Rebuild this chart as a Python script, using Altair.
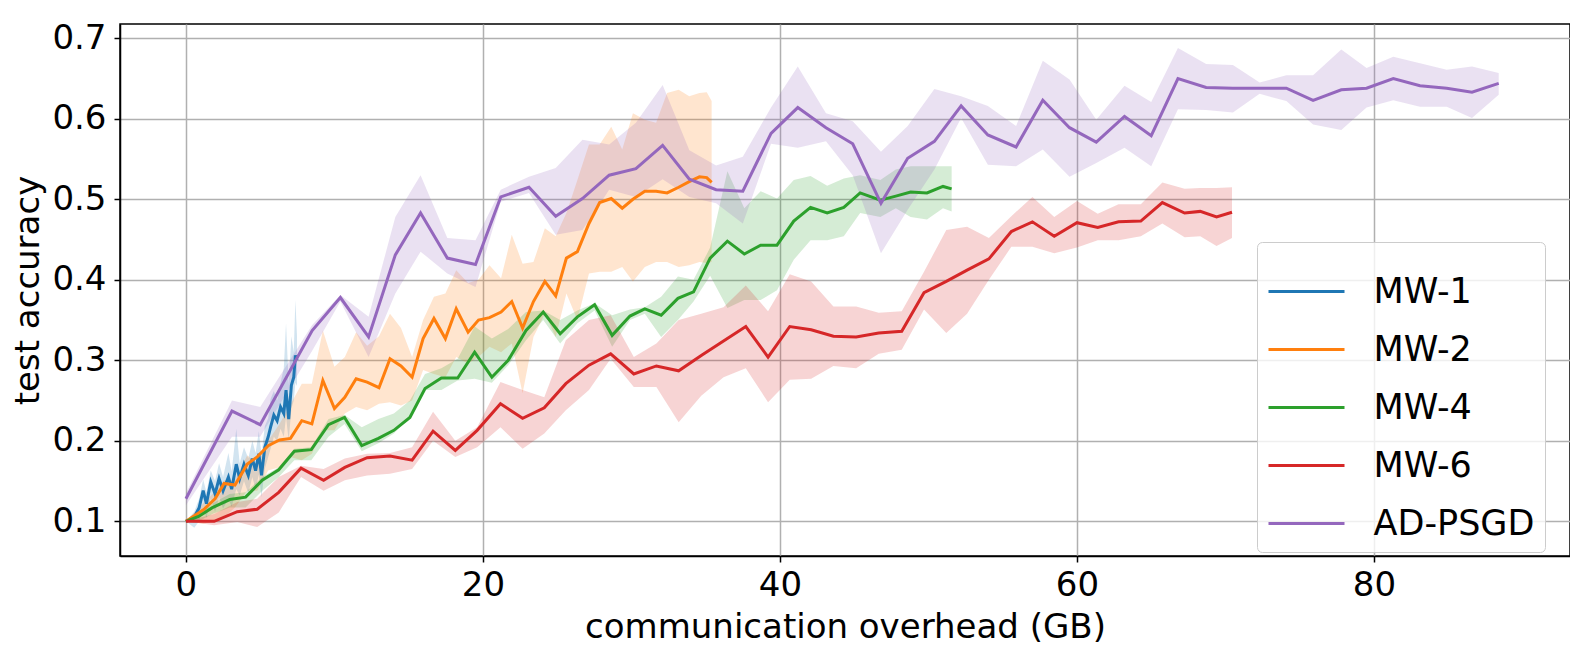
import altair as alt
import pandas as pd

series = ["MW-1", "MW-2", "MW-4", "MW-6", "AD-PSGD"]
colors = ["#1f77b4", "#ff7f0e", "#2ca02c", "#d62728", "#9467bd"]

# MW-1
x1 = [0, 0.56, 0.89, 1.16, 1.38, 1.67, 1.96, 2.23, 2.5, 2.86, 3.08, 3.39, 3.62, 3.91, 4.2, 4.47,
      4.69, 4.91, 5.09, 5.31, 5.54, 5.7, 5.92, 6.14, 6.37, 6.59, 6.74, 6.92, 7.1, 7.26, 7.37, 7.48]
y1 = [0.100, 0.105, 0.117, 0.138, 0.122, 0.149, 0.134, 0.153, 0.138, 0.155, 0.140, 0.171, 0.153, 0.171, 0.157, 0.178,
      0.163, 0.184, 0.157, 0.192, 0.205, 0.217, 0.232, 0.225, 0.242, 0.234, 0.263, 0.227, 0.269, 0.279, 0.306, 0.300]
hi1 = [0.100, 0.112, 0.128, 0.152, 0.136, 0.163, 0.150, 0.172, 0.155, 0.185, 0.162, 0.215, 0.172, 0.192, 0.178, 0.200,
       0.185, 0.212, 0.182, 0.218, 0.228, 0.252, 0.262, 0.250, 0.272, 0.290, 0.346, 0.270, 0.330, 0.310, 0.375, 0.330]
lo1 = [0.100, 0.092, 0.100, 0.118, 0.104, 0.128, 0.112, 0.130, 0.116, 0.128, 0.118, 0.140, 0.132, 0.150, 0.135, 0.155,
       0.140, 0.158, 0.130, 0.165, 0.180, 0.190, 0.205, 0.200, 0.215, 0.205, 0.230, 0.200, 0.240, 0.250, 0.272, 0.268]

# MW-2
x2 = [0, 1.16, 1.96, 2.57, 3.3, 4.13, 4.8, 5.54, 6.3, 7.04, 7.8, 8.48, 9.22, 10.0, 10.7, 11.46, 12.2, 13.0,
      13.74, 14.48, 15.23, 15.97, 16.7, 17.47, 18.2, 19.0, 19.7, 20.44, 21.22, 21.94, 22.67, 23.4, 24.17, 24.9,
      25.62, 26.36, 27.14, 27.86, 28.64, 29.38, 30.1, 30.9, 31.66, 32.4, 33.18, 33.89, 34.58, 35.07, 35.4]
y2 = [0.100, 0.114, 0.128, 0.147, 0.145, 0.171, 0.180, 0.194, 0.201, 0.203, 0.225, 0.221, 0.275, 0.240, 0.254,
      0.277, 0.273, 0.266, 0.302, 0.293, 0.279, 0.327, 0.352, 0.327, 0.364, 0.335, 0.350, 0.353, 0.360, 0.373,
      0.340, 0.373, 0.398, 0.380, 0.427, 0.435, 0.470, 0.496, 0.501, 0.489, 0.500, 0.510, 0.510, 0.508, 0.515,
      0.522, 0.528, 0.527, 0.521]
hi2 = [0.100, 0.122, 0.137, 0.151, 0.151, 0.182, 0.171, 0.200, 0.221, 0.245, 0.271, 0.271, 0.337, 0.292, 0.304,
       0.335, 0.318, 0.330, 0.358, 0.340, 0.304, 0.350, 0.379, 0.383, 0.412, 0.396, 0.400, 0.418, 0.402, 0.456,
       0.420, 0.422, 0.464, 0.454, 0.483, 0.524, 0.568, 0.568, 0.590, 0.562, 0.607, 0.599, 0.595, 0.632, 0.636,
       0.628, 0.632, 0.633, 0.622]
lo2 = [0.100, 0.097, 0.100, 0.105, 0.117, 0.138, 0.138, 0.163, 0.167, 0.180, 0.176, 0.184, 0.213, 0.213, 0.234,
       0.242, 0.238, 0.246, 0.248, 0.244, 0.250, 0.288, 0.283, 0.279, 0.304, 0.296, 0.304, 0.317, 0.310, 0.321,
       0.259, 0.329, 0.358, 0.329, 0.383, 0.350, 0.408, 0.410, 0.410, 0.416, 0.398, 0.416, 0.422, 0.422, 0.416,
       0.418, 0.422, 0.421, 0.422]

# MW-4
x4 = [0, 0.85, 1.78, 2.95, 4.02, 5.14, 6.25, 7.3, 8.44, 9.6, 10.68, 11.84, 12.96, 14.0, 15.08, 16.1, 17.2,
      18.3, 19.44, 20.6, 21.7, 22.9, 24.06, 25.2, 26.36, 27.52, 28.7, 29.9, 30.9, 32.0, 33.13, 34.18, 35.3,
      36.46, 37.6, 38.7, 39.8, 40.93, 42.06, 43.18, 44.3, 45.4, 46.76, 47.8, 48.8, 49.9, 50.98, 51.56]
y4 = [0.100, 0.106, 0.117, 0.127, 0.130, 0.151, 0.164, 0.187, 0.189, 0.220, 0.229, 0.194, 0.203, 0.213, 0.229,
      0.265, 0.278, 0.278, 0.310, 0.279, 0.300, 0.337, 0.360, 0.333, 0.354, 0.369, 0.331, 0.355, 0.364, 0.356,
      0.377, 0.385, 0.427, 0.448, 0.432, 0.443, 0.443, 0.473, 0.490, 0.483, 0.490, 0.508, 0.499, 0.504, 0.509,
      0.508, 0.516, 0.513]
hi4 = [0.100, 0.113, 0.122, 0.134, 0.136, 0.155, 0.167, 0.190, 0.192, 0.227, 0.232, 0.217, 0.227, 0.234, 0.250,
       0.283, 0.290, 0.302, 0.342, 0.327, 0.339, 0.360, 0.362, 0.350, 0.362, 0.371, 0.356, 0.363, 0.366, 0.379,
       0.404, 0.400, 0.440, 0.535, 0.489, 0.510, 0.501, 0.524, 0.529, 0.517, 0.526, 0.530, 0.524, 0.537, 0.541,
       0.541, 0.541, 0.541]
lo4 = [0.100, 0.100, 0.109, 0.117, 0.117, 0.138, 0.155, 0.176, 0.176, 0.205, 0.221, 0.187, 0.197, 0.209, 0.229,
       0.263, 0.263, 0.275, 0.277, 0.272, 0.294, 0.325, 0.350, 0.321, 0.346, 0.362, 0.317, 0.350, 0.358, 0.329,
       0.350, 0.373, 0.405, 0.365, 0.375, 0.375, 0.387, 0.425, 0.449, 0.449, 0.454, 0.483, 0.478, 0.489, 0.478,
       0.475, 0.489, 0.485]

# MW-6
x6 = [0, 1.9, 3.46, 4.8, 6.25, 7.75, 9.27, 10.7, 12.2, 13.74, 15.23, 16.64, 18.14, 19.61, 21.18, 22.67, 24.13,
      25.58, 27.14, 28.6, 30.16, 31.68, 33.18, 34.7, 36.2, 37.7, 39.2, 40.66, 42.1, 43.6, 45.13, 46.65, 48.2,
      49.7, 51.2, 52.6, 54.07, 55.58, 57.0, 58.47, 60.0, 61.4, 62.8, 64.3, 65.75, 67.25, 68.3, 69.4, 70.44]
y6 = [0.100, 0.100, 0.112, 0.115, 0.136, 0.166, 0.151, 0.167, 0.179, 0.181, 0.176, 0.212, 0.188, 0.213, 0.246,
      0.228, 0.241, 0.271, 0.294, 0.308, 0.283, 0.293, 0.287, 0.306, 0.324, 0.342, 0.304, 0.342, 0.338, 0.330,
      0.329, 0.334, 0.336, 0.384, 0.398, 0.412, 0.426, 0.460, 0.472, 0.454, 0.471, 0.465, 0.472, 0.473, 0.496,
      0.483, 0.485, 0.478, 0.484]
hi6 = [0.100, 0.109, 0.124, 0.128, 0.155, 0.169, 0.165, 0.178, 0.184, 0.185, 0.192, 0.236, 0.200, 0.217, 0.273,
       0.263, 0.254, 0.325, 0.350, 0.356, 0.304, 0.321, 0.350, 0.358, 0.366, 0.393, 0.361, 0.407, 0.398, 0.367,
       0.367, 0.359, 0.361, 0.410, 0.462, 0.466, 0.452, 0.479, 0.503, 0.478, 0.498, 0.482, 0.494, 0.494, 0.521,
       0.513, 0.514, 0.514, 0.515]
lo6 = [0.100, 0.095, 0.099, 0.093, 0.111, 0.155, 0.138, 0.151, 0.157, 0.159, 0.165, 0.200, 0.180, 0.192, 0.217,
       0.190, 0.209, 0.238, 0.263, 0.302, 0.267, 0.267, 0.223, 0.256, 0.279, 0.290, 0.248, 0.276, 0.277, 0.293,
       0.290, 0.308, 0.313, 0.363, 0.334, 0.358, 0.400, 0.441, 0.441, 0.433, 0.440, 0.449, 0.449, 0.454, 0.470,
       0.453, 0.454, 0.442, 0.452]

# AD-PSGD
x5 = [0, 3.1, 5.0, 8.5, 10.4, 12.3, 14.1, 15.8, 17.6, 19.5, 21.2, 23.1, 24.9, 26.7, 28.5, 30.3, 32.1, 33.9,
      35.7, 37.5, 39.4, 41.2, 43.1, 44.9, 46.8, 48.6, 50.4, 52.2, 54.0, 55.9, 57.7, 59.5, 61.3, 63.2, 65.0,
      66.8, 68.7, 70.5, 72.3, 74.1, 75.9, 77.8, 79.5, 81.3, 83.1, 84.9, 86.6, 88.4]
y5 = [0.128, 0.237, 0.220, 0.337, 0.378, 0.329, 0.431, 0.483, 0.427, 0.419, 0.503, 0.515, 0.479, 0.501, 0.530,
      0.538, 0.567, 0.525, 0.512, 0.510, 0.582, 0.614, 0.589, 0.569, 0.495, 0.551, 0.572, 0.616, 0.580, 0.565,
      0.623, 0.589, 0.571, 0.603, 0.579, 0.650, 0.639, 0.638, 0.638, 0.638, 0.623, 0.636, 0.638, 0.650, 0.641,
      0.638, 0.633, 0.644]
hi5 = [0.135, 0.250, 0.242, 0.344, 0.381, 0.354, 0.478, 0.530, 0.452, 0.449, 0.512, 0.528, 0.539, 0.574, 0.568,
       0.595, 0.642, 0.561, 0.542, 0.553, 0.614, 0.665, 0.607, 0.597, 0.559, 0.591, 0.637, 0.628, 0.616, 0.591,
       0.672, 0.649, 0.599, 0.641, 0.621, 0.688, 0.668, 0.667, 0.645, 0.654, 0.654, 0.686, 0.663, 0.677, 0.669,
       0.661, 0.665, 0.657]
lo5 = [0.120, 0.205, 0.205, 0.312, 0.373, 0.304, 0.383, 0.435, 0.408, 0.391, 0.497, 0.508, 0.456, 0.462, 0.512,
       0.503, 0.525, 0.503, 0.495, 0.470, 0.569, 0.564, 0.572, 0.530, 0.433, 0.487, 0.537, 0.601, 0.543, 0.541,
       0.562, 0.528, 0.545, 0.564, 0.541, 0.612, 0.611, 0.608, 0.631, 0.622, 0.593, 0.586, 0.614, 0.623, 0.615,
       0.615, 0.601, 0.630]

x_ticks = [0, 20, 40, 60, 80]
y_ticks = [0.1, 0.2, 0.3, 0.4, 0.5, 0.6, 0.7]

rows = []
for name, xs, ys, los, his in [
    ("MW-1", x1, y1, lo1, hi1),
    ("MW-2", x2, y2, lo2, hi2),
    ("MW-4", x4, y4, lo4, hi4),
    ("MW-6", x6, y6, lo6, hi6),
    ("AD-PSGD", x5, y5, lo5, hi5),
]:
    for a, b, c, d in zip(xs, ys, los, his):
        rows.append({"series": name, "x": a, "y": b, "lo": c, "hi": d})
df = pd.DataFrame(rows)

FONT = "DejaVu Sans"
xscale = alt.Scale(domain=[-4.44, 93.2], nice=False, zero=False)
yscale = alt.Scale(domain=[0.0569, 0.7178], nice=False, zero=False)
# line colours (with legend)
cscale = alt.Scale(domain=series, range=colors)
# band colours: same mapping, listed in reverse so its (hidden) legend is kept apart
fscale = alt.Scale(domain=series[::-1], range=colors[::-1])

xaxis = alt.Axis(values=x_ticks, format="d", title="communication overhead (GB)")
yaxis = alt.Axis(values=y_ticks, format=".1f", title="test accuracy")

legend = alt.Legend(
    orient="none", legendX=1137, legendY=218,
    symbolType="stroke", symbolStrokeWidth=3, symbolSize=5776,
    labelFontSize=35, labelFont=FONT, labelColor="black", labelOffset=27.5, labelLimit=400,
    padding=10, fillColor="rgba(255,255,255,0.8)", strokeColor="#cccccc",
    cornerRadius=5, rowPadding=-7,
)

bands = alt.Chart(df).mark_area(opacity=0.2, clip=True).encode(
    x=alt.X("x:Q", scale=xscale, axis=xaxis),
    y=alt.Y("lo:Q", scale=yscale, axis=yaxis),
    y2="hi:Q",
    fill=alt.Fill("series:N", scale=fscale, legend=None),
)

lines = alt.Chart(df).mark_line(strokeWidth=3, clip=True).encode(
    x=alt.X("x:Q", scale=xscale, axis=xaxis),
    y=alt.Y("y:Q", scale=yscale, axis=yaxis),
    color=alt.Color("series:N", scale=cscale, title="", legend=legend),
)

chart = alt.layer(bands, lines).properties(
    width=1450, height=532,
    padding={"left": 112, "top": 16, "right": 0, "bottom": 90},
    autosize=alt.AutoSizeParams(type="none"),
).configure_view(
    stroke="black", strokeWidth=1.5
).configure_axis(
    grid=True, gridColor="#b0b0b0", gridWidth=1.5,
    domainColor="black", domainWidth=1.5,
    tickColor="black", tickWidth=1.5, tickSize=6,
    labelFont=FONT, labelFontSize=34, labelColor="black",
    titleFont=FONT, titleFontSize=34, titleColor="black", titleFontWeight="normal",
).configure_axisX(
    labelPadding=6, titlePadding=8,
).configure_axisY(
    labelPadding=8, titlePadding=6,
)

chart.save("out.html", embed_options={"renderer": "svg", "actions": False})
